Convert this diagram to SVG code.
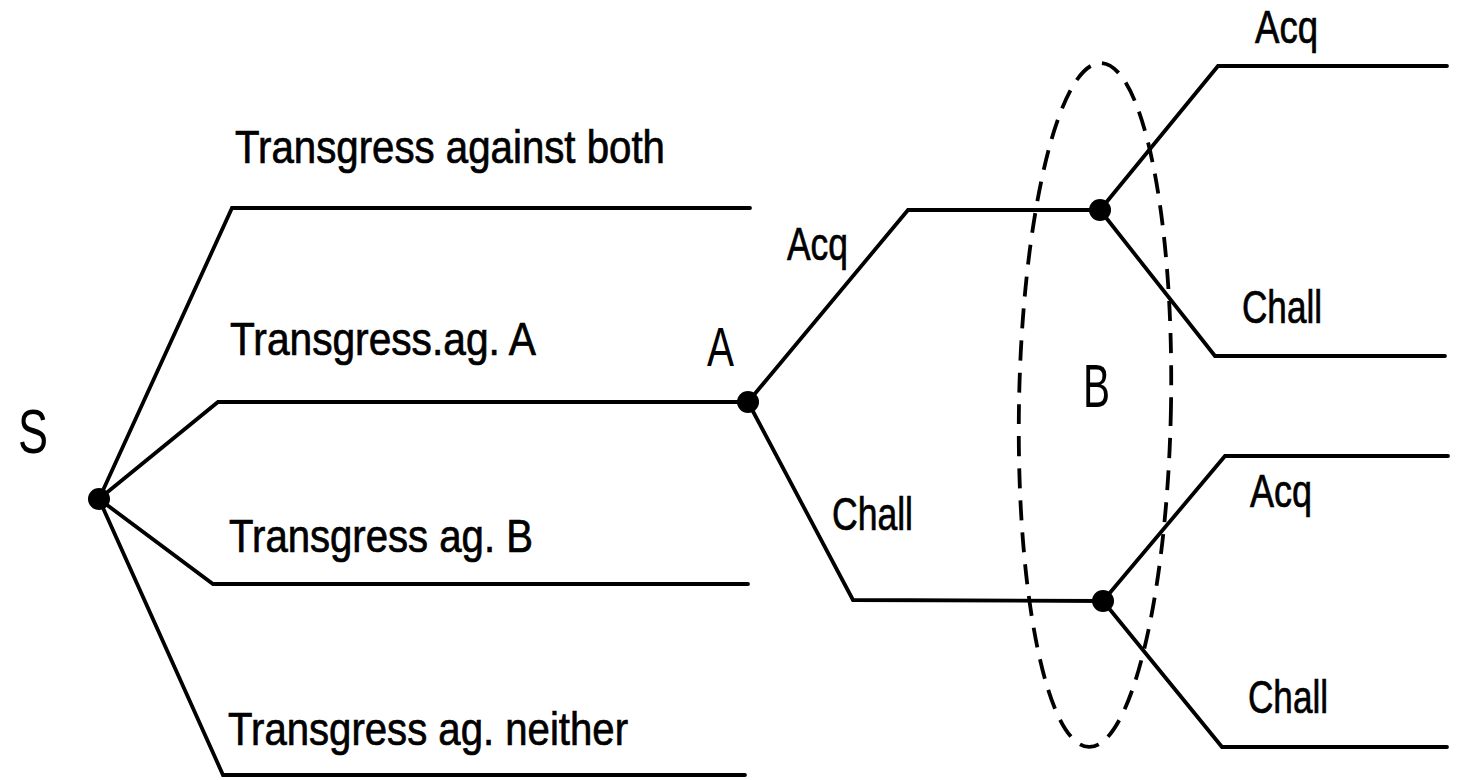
<svg xmlns="http://www.w3.org/2000/svg" width="1460" height="780" viewBox="0 0 1460 780">
  <style>
    .edge { fill: none; stroke: #000; stroke-width: 3.8; stroke-linejoin: miter; stroke-linecap: round; }
    .dot { fill: #000; }
    .lbl { font-family: "Liberation Sans", Arial, sans-serif; font-size: 46px; fill: #000; stroke: #000; stroke-width: 0.7; }
    .big { font-family: "Liberation Sans", Arial, sans-serif; fill: #000; }
    .infoset { fill: none; stroke: #000; stroke-width: 3.8; stroke-dasharray: 20 12; }
  </style>
  <rect width="1460" height="780" fill="#fff"/>

  <!-- branches of the game tree -->
  <g id="connectors">
    <path class="edge" d="M99 499 L232 208 L750 208"/>
    <path class="edge" d="M99 499 L218 402 L748 402"/>
    <path class="edge" d="M99 499 L213 584 L748 584"/>
    <path class="edge" d="M99 499 L223 775 L745 775"/>
    <path class="edge" d="M748 402 L908 210 L1100 210"/>
    <path class="edge" d="M748 402 L853 600 L1103 601"/>
    <path class="edge" d="M1100 210 L1218 66 L1447 66"/>
    <path class="edge" d="M1100 210 L1215 356 L1445 356"/>
    <path class="edge" d="M1103 601 L1225 456 L1448 456"/>
    <path class="edge" d="M1103 601 L1222 747 L1447 747"/>
  </g>

  <!-- root decision -->
  <g id="node-S">
    <circle class="dot" cx="99" cy="499" r="11"/>
    <text class="big" x="18" y="453" font-size="63" textLength="30" lengthAdjust="spacingAndGlyphs">S</text>
  </g>

  <g id="opt-both">
    <text class="lbl" x="235" y="163" textLength="430" lengthAdjust="spacingAndGlyphs">Transgress against both</text>
  </g>
  <g id="opt-A">
    <text class="lbl" x="230" y="355" textLength="306" lengthAdjust="spacingAndGlyphs">Transgress.ag. A</text>
  </g>
  <g id="opt-B">
    <text class="lbl" x="229" y="552" textLength="304" lengthAdjust="spacingAndGlyphs">Transgress ag. B</text>
  </g>
  <g id="opt-neither">
    <text class="lbl" x="228" y="745" textLength="400" lengthAdjust="spacingAndGlyphs">Transgress ag. neither</text>
  </g>

  <!-- A's decision -->
  <g id="node-A">
    <circle class="dot" cx="748" cy="402" r="11"/>
    <text class="big" x="707" y="366" font-size="56" textLength="27" lengthAdjust="spacingAndGlyphs">A</text>
    <text class="lbl" x="787" y="260" textLength="61" lengthAdjust="spacingAndGlyphs">Acq</text>
    <text class="lbl" x="832" y="530" textLength="81" lengthAdjust="spacingAndGlyphs">Chall</text>
  </g>

  <!-- B's information set -->
  <g id="node-B">
    <ellipse class="infoset" cx="1095" cy="405" rx="76" ry="342" transform="rotate(1 1095 405)"/>
    <text class="big" x="1083" y="407" font-size="61" textLength="27" lengthAdjust="spacingAndGlyphs">B</text>
  </g>
  <g id="node-B-upper">
    <circle class="dot" cx="1100" cy="210" r="11"/>
    <text class="lbl" x="1255" y="43" textLength="63" lengthAdjust="spacingAndGlyphs">Acq</text>
    <text class="lbl" x="1242" y="323" textLength="80" lengthAdjust="spacingAndGlyphs">Chall</text>
  </g>
  <g id="node-B-lower">
    <circle class="dot" cx="1103" cy="601" r="11"/>
    <text class="lbl" x="1250" y="507" textLength="62" lengthAdjust="spacingAndGlyphs">Acq</text>
    <text class="lbl" x="1248" y="713" textLength="80" lengthAdjust="spacingAndGlyphs">Chall</text>
  </g>
</svg>
